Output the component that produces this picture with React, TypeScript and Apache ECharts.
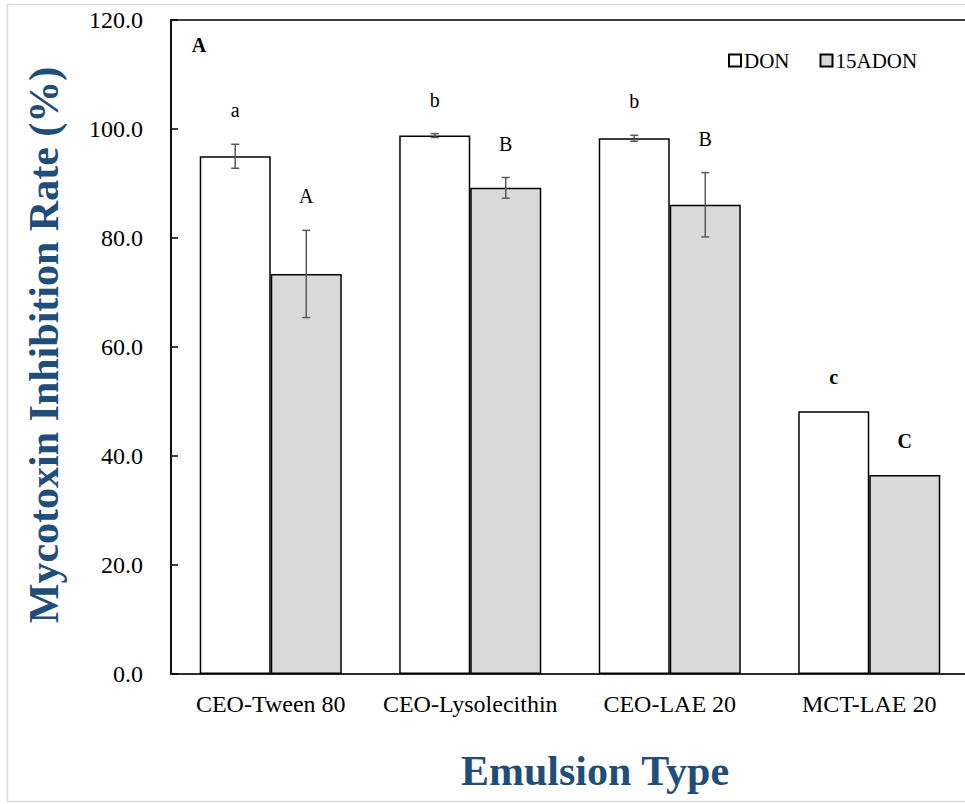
import React, { useEffect, useRef } from "react";
import * as echarts from "echarts";

const categories = ["CEO-Tween 80", "CEO-Lysolecithin", "CEO-LAE 20", "MCT-LAE 20"];
const donValues = [95.0, 98.8, 98.3, 48.2];
const donSd = [2.2, 0.35, 0.55, 0];
const adonValues = [73.4, 89.2, 86.1, 36.5];
const adonSd = [8.0, 1.9, 5.9, 0];
const donLetters = ["a", "b", "b", "c"];
const adonLetters = ["A", "B", "B", "C"];
const boldLetters = [false, false, false, true];
const yTicks = { min: 0, max: 120, interval: 20 };

const FONT = "Liberation Serif";
const TITLE_COLOR = "#1F4E79";
const BAR_WIDTH_FRAC = 0.356;

type ErrItem = { cat: number; mean: number; sd: number; side: number; letter: string; bold: boolean };

export default function App() {
  const ref = useRef<HTMLDivElement>(null);

  useEffect(() => {
    if (!ref.current) return;
    const chart = echarts.init(ref.current, undefined, { renderer: "svg" });

    const items: ErrItem[] = [];
    categories.forEach((_, i) => {
      items.push({ cat: i, mean: donValues[i], sd: donSd[i], side: 0, letter: donLetters[i], bold: boldLetters[i] });
      items.push({ cat: i, mean: adonValues[i], sd: adonSd[i], side: 1, letter: adonLetters[i], bold: boldLetters[i] });
    });

    const option: any = {
      animation: false,
      backgroundColor: "#fff",
      textStyle: { fontFamily: FONT },
      grid: {
        left: 171,
        top: 20,
        width: 798,
        height: 654,
        show: true,
        borderColor: "#000",
        borderWidth: 1.5,
        backgroundColor: "transparent",
      },
      legend: {
        left: 728,
        top: 50,
        padding: 0,
        icon: "rect",
        itemWidth: 12,
        itemHeight: 12,
        itemGap: 30,
        textStyle: { fontFamily: FONT, fontSize: 21, color: "#000", padding: [0, 0, 0, -2] },
        data: ["DON", "15ADON"],
      },
      xAxis: {
        type: "category",
        data: categories,
        axisLine: { show: true, lineStyle: { color: "#262626", width: 1.5 } },
        axisTick: { show: false },
        axisLabel: { fontFamily: FONT, fontSize: 24, color: "#000", margin: 18, interval: 0 },
      },
      yAxis: {
        type: "value",
        min: yTicks.min,
        max: yTicks.max,
        interval: yTicks.interval,
        axisLine: { show: true, lineStyle: { color: "#000", width: 1.5 } },
        axisTick: { show: true, inside: true, length: 7, lineStyle: { color: "#000", width: 1.5 } },
        splitLine: { show: false },
        axisLabel: {
          fontFamily: FONT,
          fontSize: 24,
          color: "#000",
          margin: 28,
          formatter: (v: number) => v.toFixed(1),
        },
      },
      series: [
        {
          name: "DON",
          type: "bar",
          data: donValues,
          barWidth: (BAR_WIDTH_FRAC * 100).toFixed(1) + "%",
          barGap: "0%",
          itemStyle: { color: "#ffffff", borderColor: "#000", borderWidth: 1.5 },
        },
        {
          name: "15ADON",
          type: "bar",
          data: adonValues,
          barWidth: (BAR_WIDTH_FRAC * 100).toFixed(1) + "%",
          barGap: "0%",
          itemStyle: { color: "#D9D9D9", borderColor: "#000", borderWidth: 1.5 },
        },
        {
          type: "custom",
          z: 5,
          encode: { x: 0, y: 1 },
          data: items.map((d) => [d.cat, d.mean, d.sd, d.side]),
          renderItem: (params: any, api: any) => {
            const it = items[params.dataIndex];
            const bw = api.size([1, 0])[0] * BAR_WIDTH_FRAC;
            const base = api.coord([it.cat, it.mean]);
            const x = base[0] + (it.side === 0 ? -bw / 2 : bw / 2);
            const top = api.coord([it.cat, it.mean + it.sd])[1];
            const bot = api.coord([it.cat, it.mean - it.sd])[1];
            const children: any[] = [];
            const ls = { stroke: "#595959", lineWidth: 1.5 };
            if (it.sd > 0) {
              children.push({ type: "line", shape: { x1: x, y1: top, x2: x, y2: bot }, style: ls });
              children.push({ type: "line", shape: { x1: x - 4, y1: top, x2: x + 4, y2: top }, style: ls });
              children.push({ type: "line", shape: { x1: x - 4, y1: bot, x2: x + 4, y2: bot }, style: ls });
            }
            children.push({
              type: "text",
              x: x,
              y: top - 34,
              style: {
                text: it.letter,
                fontFamily: FONT,
                fontSize: 20,
                fontWeight: it.bold ? "bold" : "normal",
                fill: "#000",
                align: "center",
                verticalAlign: "middle",
              },
            });
            return { type: "group", children };
          },
        },
      ],
      graphic: [
        {
          type: "rect",
          z: -10,
          shape: { x: 7.5, y: 4.5, width: 1000, height: 797 },
          style: { fill: "none", stroke: "#D9D9D9", lineWidth: 1.5 },
        },
        {
          type: "text",
          x: 199,
          y: 45,
          style: {
            text: "A",
            fontFamily: FONT,
            fontSize: 20,
            fontWeight: "bold",
            fill: "#000",
            align: "center",
            verticalAlign: "middle",
          },
        },
        {
          type: "text",
          x: 595,
          y: 771,
          style: {
            text: "Emulsion Type",
            fontFamily: FONT,
            fontSize: 42,
            fontWeight: "bold",
            fill: TITLE_COLOR,
            align: "center",
            verticalAlign: "middle",
          },
        },
        {
          type: "text",
          x: 44,
          y: 345,
          rotation: Math.PI / 2,
          style: {
            text: "Mycotoxin Inhibition Rate (%)",
            fontFamily: FONT,
            fontSize: 42,
            fontWeight: "bold",
            fill: TITLE_COLOR,
            align: "center",
            verticalAlign: "middle",
          },
        },
      ],
    };

    chart.setOption(option);
    return () => chart.dispose();
  }, []);

  return (
    <div
      style={{
        position: "absolute",
        left: 0,
        top: 0,
        width: 965,
        height: 804,
        overflow: "hidden",
        background: "#fff",
      }}
    >
      <div ref={ref} style={{ width: 980, height: 804, background: "#fff" }} />
    </div>
  );
}
